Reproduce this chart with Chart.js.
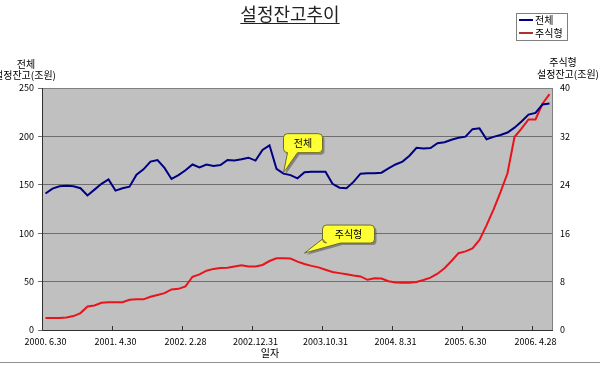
<!DOCTYPE html>
<html>
<head>
<meta charset="utf-8">
<script src="https://cdn.jsdelivr.net/npm/chart.js@4.4.1/dist/chart.umd.min.js"></script>
<style>
    html, body { margin: 0; padding: 0; background: #fff; }
    #wrap { width: 600px; height: 366px; position: relative; }
</style>
</head>
<body>
<div id="wrap"><canvas id="balanceChart"></canvas></div>
<script>
// 월말 기준일
const dates = [
    '2000. 6.30', '2000. 7.31', '2000. 8.31', '2000. 9.30', '2000.10.31', '2000.11.30', '2000.12.31',
    '2001. 1.31', '2001. 2.28', '2001. 3.31', '2001. 4.30', '2001. 5.31', '2001. 6.30', '2001. 7.31', '2001. 8.31', '2001. 9.30', '2001.10.31', '2001.11.30', '2001.12.31',
    '2002. 1.31', '2002. 2.28', '2002. 3.31', '2002. 4.30', '2002. 5.31', '2002. 6.30', '2002. 7.31', '2002. 8.31', '2002. 9.30', '2002.10.31', '2002.11.30', '2002.12.31',
    '2003. 1.31', '2003. 2.28', '2003. 3.31', '2003. 4.30', '2003. 5.31', '2003. 6.30', '2003. 7.31', '2003. 8.31', '2003. 9.30', '2003.10.31', '2003.11.30', '2003.12.31',
    '2004. 1.31', '2004. 2.29', '2004. 3.31', '2004. 4.30', '2004. 5.31', '2004. 6.30', '2004. 7.31', '2004. 8.31', '2004. 9.30', '2004.10.31', '2004.11.30', '2004.12.31',
    '2005. 1.31', '2005. 2.28', '2005. 3.31', '2005. 4.30', '2005. 5.31', '2005. 6.30', '2005. 7.31', '2005. 8.31', '2005. 9.30', '2005.10.31', '2005.11.30', '2005.12.31',
    '2006. 1.31', '2006. 2.28', '2006. 3.31', '2006. 4.28', '2006. 5.31', '2006. 6.30'
];

// 전체 설정잔고 (조원, 왼쪽 축)
const totalBalance = [
    141, 146, 148.5, 149, 148.5, 146.5, 139, 145, 151, 155.5,
    144, 146.5, 148, 160.5, 166, 174, 175.6, 167.5, 156, 160,
    165, 171, 168, 171, 169.4, 170.5, 175.6, 175, 176.3, 178,
    175, 186, 190.8, 166.5, 161.5, 160, 156.7, 163, 163.5, 163.5,
    163.5, 151, 147, 146.5, 153, 161.5, 161.9, 162, 162.5, 167,
    171, 174, 180, 188.3, 187.5, 188, 193, 194, 196.5, 198.5,
    199.7, 207.5, 208.3, 197, 199.5, 201.5, 204, 209, 215.5, 222.5,
    224.3, 233, 234
];

// 주식형 설정잔고 (조원, 오른쪽 축)
const equityBalance = [
    2.0, 2.0, 2.0, 2.05, 2.3, 2.8, 3.9, 4.05, 4.5, 4.6,
    4.6, 4.6, 5.0, 5.07, 5.07, 5.5, 5.8, 6.1, 6.7, 6.8,
    7.2, 8.8, 9.2, 9.8, 10.1, 10.25, 10.3, 10.5, 10.7, 10.5,
    10.5, 10.75, 11.4, 11.85, 11.85, 11.8, 11.3, 10.9, 10.6, 10.35,
    9.95, 9.6, 9.4, 9.2, 9.0, 8.85, 8.3, 8.55, 8.5, 8.05,
    7.85, 7.82, 7.82, 7.95, 8.27, 8.65, 9.3, 10.2, 11.4, 12.7,
    13.0, 13.5, 14.9, 17.3, 19.9, 22.8, 25.9, 31.9, 33.3, 34.8,
    34.8, 37.4, 39.0
];

const leftMax = 250, leftStep = 50;
const rightMax = 40, rightStep = 8;
const labelEvery = 10;

const FONT = '"Noto Sans CJK KR", "Noto Sans", sans-serif';
const NAVY = '#000080';
const RED = '#e8141b';

// 회색 플롯 배경
const plotBackground = {
    id: 'plotBackground',
    beforeDraw(chart) {
        const { ctx, chartArea: a } = chart;
        ctx.save();
        ctx.fillStyle = '#c0c0c0';
        ctx.fillRect(a.left, a.top, a.right - a.left, a.bottom - a.top);
        ctx.restore();
    }
};

function drawCallout(ctx, tipX, tipY, box, base, text) {
    const r = 4;
    const path = () => {
        ctx.beginPath();
        ctx.moveTo(box.x + r, box.y);
        ctx.lineTo(box.x + box.w - r, box.y);
        ctx.quadraticCurveTo(box.x + box.w, box.y, box.x + box.w, box.y + r);
        ctx.lineTo(box.x + box.w, box.y + box.h - r);
        ctx.quadraticCurveTo(box.x + box.w, box.y + box.h, box.x + box.w - r, box.y + box.h);
        ctx.lineTo(base[1][0], base[1][1]);
        ctx.lineTo(tipX, tipY);
        ctx.lineTo(base[0][0], base[0][1]);
        ctx.lineTo(box.x + r, box.y + box.h);
        ctx.quadraticCurveTo(box.x, box.y + box.h, box.x, box.y + box.h - r);
        ctx.lineTo(box.x, box.y + r);
        ctx.quadraticCurveTo(box.x, box.y, box.x + r, box.y);
        ctx.closePath();
    };
    ctx.save();
    ctx.translate(2, 2);
    path();
    ctx.fillStyle = 'rgba(80,80,80,0.55)';
    ctx.fill();
    ctx.restore();
    ctx.save();
    path();
    ctx.fillStyle = '#ffff33';
    ctx.fill();
    ctx.strokeStyle = '#6b6b30';
    ctx.lineWidth = 1;
    ctx.stroke();
    ctx.fillStyle = '#000';
    ctx.font = '10px ' + FONT;
    ctx.textAlign = 'center';
    ctx.textBaseline = 'middle';
    ctx.fillText(text, box.x + box.w / 2, box.y + box.h / 2);
    ctx.restore();
}

// 제목, 범례, 축 제목, 말풍선
const decorations = {
    id: 'decorations',
    afterDraw(chart) {
        const { ctx, chartArea: a, scales } = chart;
        ctx.save();

        // 플롯 테두리
        ctx.strokeStyle = '#808080';
        ctx.lineWidth = 1;
        ctx.strokeRect(a.left + 0.5, a.top + 0.5, a.right - a.left - 1, a.bottom - a.top);
        ctx.strokeStyle = '#303030';
        ctx.beginPath();
        ctx.moveTo(a.left + 0.5, a.top);
        ctx.lineTo(a.left + 0.5, a.bottom + 0.5);
        ctx.lineTo(a.right, a.bottom + 0.5);
        ctx.stroke();

        // x축 눈금 (안쪽)
        const xs = scales.x;
        const half = (a.right - a.left) / dates.length / 2;
        ctx.strokeStyle = '#303030';
        ctx.beginPath();
        for (let i = 0; i <= dates.length; i += labelEvery) {
            const px = Math.round(xs.getPixelForValue(Math.min(i, dates.length - 1)) - half) + 0.5;
            ctx.moveTo(px, a.bottom);
            ctx.lineTo(px, a.bottom - 4);
        }
        ctx.stroke();

        // 제목
        ctx.fillStyle = '#222';
        ctx.font = '18px ' + FONT;
        ctx.textAlign = 'center';
        ctx.textBaseline = 'alphabetic';
        const title = '설정잔고추이';
        const tw = ctx.measureText(title).width;
        ctx.fillText(title, 290, 21);
        ctx.fillRect(290 - tw / 2, 23, tw, 1);

        // 범례
        ctx.fillStyle = '#fff';
        ctx.fillRect(516, 13, 51, 27);
        ctx.strokeStyle = '#808080';
        ctx.strokeRect(516.5, 13.5, 51, 27);
        ctx.lineWidth = 2;
        [[NAVY, '전체', 20], ['#b03030', '주식형', 33]].forEach(([c, t, y]) => {
            ctx.strokeStyle = c;
            ctx.beginPath();
            ctx.moveTo(519, y);
            ctx.lineTo(533, y);
            ctx.stroke();
            ctx.fillStyle = '#000';
            ctx.font = '10px ' + FONT;
            ctx.textAlign = 'left';
            ctx.textBaseline = 'middle';
            ctx.fillText(t, 535, y);
        });

        // 축 제목
        ctx.fillStyle = '#000';
        ctx.font = '10px ' + FONT;
        ctx.textAlign = 'center';
        ctx.textBaseline = 'middle';
        ctx.fillText('전체', 26, 64);
        ctx.fillText('설정잔고(조원)', 25, 75);
        ctx.fillText('주식형', 563, 62);
        ctx.fillText('설정잔고(조원)', 568, 74);
        ctx.fillText('일자', 270, 353);

        // 하단 선
        ctx.strokeStyle = '#909090';
        ctx.lineWidth = 1;
        ctx.beginPath();
        ctx.moveTo(0, 362.5);
        ctx.lineTo(600, 362.5);
        ctx.stroke();
        ctx.restore();

        // 말풍선
        const p0 = chart.getDatasetMeta(0).data[34];
        drawCallout(ctx, p0.x, p0.y - 1,
            { x: p0.x, y: p0.y - 40, w: 39, h: 19 },
            [[p0.x + 4, p0.y - 21], [p0.x + 14, p0.y - 21]], '전체');
        const p1 = chart.getDatasetMeta(1).data[37];
        const tx = p1.x, ty = p1.y - 11;
        drawCallout(ctx, tx, ty,
            { x: tx + 18, y: ty - 28, w: 52, h: 18 },
            [[tx + 18, ty - 14], [tx + 36, ty - 10]], '주식형');
    }
};

new Chart(document.getElementById('balanceChart'), {
    type: 'line',
    data: {
        labels: dates,
        datasets: [
            {
                label: '전체',
                data: totalBalance,
                yAxisID: 'y',
                borderColor: NAVY,
                borderWidth: 2,
                pointRadius: 0,
                tension: 0
            },
            {
                label: '주식형',
                data: equityBalance,
                yAxisID: 'y1',
                borderColor: RED,
                borderWidth: 2,
                pointRadius: 0,
                tension: 0
            }
        ]
    },
    options: {
        responsive: true,
        maintainAspectRatio: false,
        animation: false,
        layout: { padding: { top: 88, left: 0, right: 0, bottom: 0 } },
        plugins: {
            legend: { display: false },
            tooltip: { enabled: false }
        },
        scales: {
            x: {
                type: 'category',
                offset: true,
                grid: { display: false, drawTicks: false },
                border: { display: false },
                ticks: {
                    autoSkip: false,
                    maxRotation: 0,
                    padding: 6,
                    color: '#000',
                    font: { family: FONT, size: 9 },
                    callback: (v, i) => (i % labelEvery === 0 ? dates[i] : '')
                },
                afterFit: s => { s.height = 36; }
            },
            y: {
                position: 'left',
                min: 0,
                max: leftMax,
                grid: { color: '#6e6e6e', tickLength: 4 },
                border: { color: '#303030' },
                ticks: {
                    stepSize: leftStep,
                    padding: 4,
                    color: '#000',
                    font: { family: FONT, size: 9 }
                },
                afterFit: s => { s.width = 42; }
            },
            y1: {
                position: 'right',
                min: 0,
                max: rightMax,
                grid: { drawOnChartArea: false, tickLength: 0 },
                border: { display: false },
                ticks: {
                    stepSize: rightStep,
                    padding: 7,
                    color: '#000',
                    font: { family: FONT, size: 9 }
                },
                afterFit: s => { s.width = 47; }
            }
        }
    },
    plugins: [plotBackground, decorations]
});
</script>
</body>
</html>
